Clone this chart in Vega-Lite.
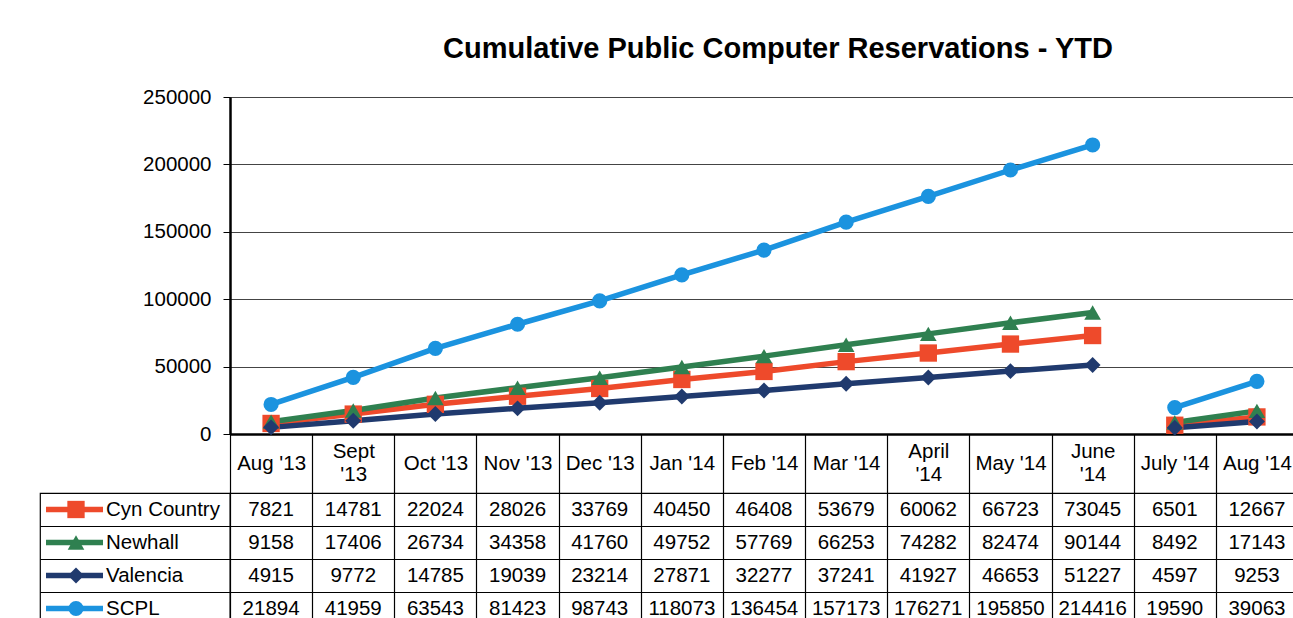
{
  "$schema": "https://vega.github.io/schema/vega-lite/v6.json",
  "padding": {"left": 39, "top": 34, "right": 0, "bottom": 0},
  "background": "white",
  "datasets": {
    "wide": [
      {"month": "Aug '13", "fy": "2013-14", "Cyn Country": 7821, "Newhall": 9158, "Valencia": 4915, "SCPL": 21894},
      {"month": "Sept '13", "fy": "2013-14", "Cyn Country": 14781, "Newhall": 17406, "Valencia": 9772, "SCPL": 41959},
      {"month": "Oct '13", "fy": "2013-14", "Cyn Country": 22024, "Newhall": 26734, "Valencia": 14785, "SCPL": 63543},
      {"month": "Nov '13", "fy": "2013-14", "Cyn Country": 28026, "Newhall": 34358, "Valencia": 19039, "SCPL": 81423},
      {"month": "Dec '13", "fy": "2013-14", "Cyn Country": 33769, "Newhall": 41760, "Valencia": 23214, "SCPL": 98743},
      {"month": "Jan '14", "fy": "2013-14", "Cyn Country": 40450, "Newhall": 49752, "Valencia": 27871, "SCPL": 118073},
      {"month": "Feb '14", "fy": "2013-14", "Cyn Country": 46408, "Newhall": 57769, "Valencia": 32277, "SCPL": 136454},
      {"month": "Mar '14", "fy": "2013-14", "Cyn Country": 53679, "Newhall": 66253, "Valencia": 37241, "SCPL": 157173},
      {"month": "April '14", "fy": "2013-14", "Cyn Country": 60062, "Newhall": 74282, "Valencia": 41927, "SCPL": 176271},
      {"month": "May '14", "fy": "2013-14", "Cyn Country": 66723, "Newhall": 82474, "Valencia": 46653, "SCPL": 195850},
      {"month": "June '14", "fy": "2013-14", "Cyn Country": 73045, "Newhall": 90144, "Valencia": 51227, "SCPL": 214416},
      {"month": "July '14", "fy": "2014-15", "Cyn Country": 6501, "Newhall": 8492, "Valencia": 4597, "SCPL": 19590},
      {"month": "Aug '14", "fy": "2014-15", "Cyn Country": 12667, "Newhall": 17143, "Valencia": 9253, "SCPL": 39063}
    ],
    "series": [
      {"series": "Cyn Country"},
      {"series": "Newhall"},
      {"series": "Valencia"},
      {"series": "SCPL"}
    ]
  },
  "columns": 2,
  "bounds": "flush",
  "spacing": {"row": 59, "column": 0},
  "resolve": {"scale": {"x": "independent", "y": "independent", "color": "shared", "shape": "shared", "size": "shared"}},
  "concat": [
    {
      "width": 190,
      "height": 337,
      "view": {"stroke": null},
      "data": {"values": [{"blank": ""}]},
      "mark": {"type": "text"},
      "encoding": {"text": {"field": "blank"}}
    },
    {
      "width": 1068,
      "height": 337,
      "title": {"text": "Cumulative Public Computer Reservations - YTD", "fontSize": 29, "fontWeight": "bold", "font": "Liberation Sans", "anchor": "middle", "offset": 23, "dx": 14, "color": "#000"},
      "view": {"stroke": "#333", "strokeWidth": 1},
      "data": {"name": "wide"},
      "transform": [{"fold": ["Cyn Country", "Newhall", "Valencia", "SCPL"], "as": ["series", "value"]}],
      "encoding": {
        "x": {
          "field": "month", "type": "ordinal",
          "sort": ["Aug '13", "Sept '13", "Oct '13", "Nov '13", "Dec '13", "Jan '14", "Feb '14", "Mar '14", "April '14", "May '14", "June '14", "July '14", "Aug '14"],
          "scale": {"type": "band", "paddingInner": 0, "paddingOuter": 0},
          "bandPosition": 0.5,
          "axis": {
            "title": null, "labelAngle": 0, "labelFontSize": 20.5, "labelColor": "#000",
            "labelOverlap": false, "labelBaseline": "middle", "labelLineHeight": 23,
            "labelPadding": {"condition": {"test": "indexof([\"Sept '13\", \"April '14\", \"June '14\"], datum.value) >= 0", "value": -42}, "value": -30},
            "tickBand": "extent", "tickSize": 59, "tickColor": "#000", "tickWidth": 1.2,
            "domainColor": "#000", "domainWidth": 2.5, "grid": false,
            "labelExpr": "indexof([\"Sept '13\", \"April '14\", \"June '14\"], datum.value) >= 0 ? split(datum.value, ' ') : datum.value"
          }
        },
        "y": {
          "field": "value", "type": "quantitative",
          "scale": {"domain": [0, 250000], "nice": false},
          "axis": {
            "title": null, "values": [0, 50000, 100000, 150000, 200000, 250000], "format": "d",
            "labelFontSize": 20.5, "labelColor": "#000", "labelPadding": 12,
            "tickSize": 7, "tickColor": "#000", "domainColor": "#000", "domainWidth": 2.5,
            "grid": true, "gridColor": "#444", "gridWidth": 1.2
          }
        },
        "color": {
          "field": "series", "type": "nominal", "legend": null,
          "scale": {"domain": ["Cyn Country", "Newhall", "Valencia", "SCPL"], "range": ["#EE4A2B", "#2F8050", "#203A6E", "#1B93DF"]}
        },
        "detail": {"field": "fy"}
      },
      "layer": [
        {"mark": {"type": "line", "strokeWidth": 5.5}},
        {
          "mark": {"type": "point", "filled": true, "opacity": 1},
          "encoding": {
            "shape": {"field": "series", "type": "nominal", "legend": null,
              "scale": {"domain": ["Cyn Country", "Newhall", "Valencia", "SCPL"], "range": ["square", "triangle-up", "diamond", "circle"]}},
            "size": {"field": "series", "type": "nominal", "legend": null,
              "scale": {"domain": ["Cyn Country", "Newhall", "Valencia", "SCPL"], "range": [300, 230, 200, 380]}}
          }
        }
      ]
    },
    {
      "width": 190,
      "height": 132,
      "view": {"stroke": "#000", "strokeWidth": 1.2},
      "data": {"name": "series"},
      "encoding": {
        "y": {
          "field": "series", "type": "nominal",
          "sort": ["Cyn Country", "Newhall", "Valencia", "SCPL"],
          "scale": {"type": "band", "paddingInner": 0, "paddingOuter": 0},
          "axis": {"title": null, "labels": false, "ticks": false, "domain": false, "grid": true, "tickBand": "extent", "gridColor": "#000", "gridWidth": 1.2}
        },
        "color": {"field": "series", "type": "nominal", "legend": null}
      },
      "layer": [
        {
          "mark": {"type": "rule", "strokeWidth": 5.5},
          "encoding": {
            "x": {"datum": 6, "type": "quantitative", "scale": {"domain": [0, 190], "nice": false}, "axis": null},
            "x2": {"datum": 63},
            "y": {"field": "series", "type": "nominal", "sort": ["Cyn Country", "Newhall", "Valencia", "SCPL"], "bandPosition": 0.5,
              "axis": {"title": null, "labels": false, "ticks": false, "domain": false, "grid": true, "tickBand": "extent", "gridColor": "#000", "gridWidth": 1.2}}
          }
        },
        {
          "mark": {"type": "point", "filled": true, "opacity": 1},
          "encoding": {
            "x": {"datum": 36, "type": "quantitative"},
            "shape": {"field": "series", "type": "nominal", "legend": null},
            "size": {"field": "series", "type": "nominal", "legend": null}
          }
        },
        {
          "mark": {"type": "text", "align": "left", "baseline": "middle", "fontSize": 20.5, "font": "Liberation Sans", "color": "#000"},
          "encoding": {
            "x": {"datum": 66, "type": "quantitative"},
            "text": {"field": "series"},
            "color": {"value": "#000"}
          }
        }
      ]
    },
    {
      "width": 1068,
      "height": 132,
      "view": {"stroke": "#000", "strokeWidth": 1.2},
      "data": {"name": "wide"},
      "transform": [{"fold": ["Cyn Country", "Newhall", "Valencia", "SCPL"], "as": ["series", "value"]}],
      "mark": {"type": "text", "fontSize": 20.5, "font": "Liberation Sans", "color": "#000", "baseline": "middle"},
      "encoding": {
        "x": {
          "field": "month", "type": "ordinal",
          "sort": ["Aug '13", "Sept '13", "Oct '13", "Nov '13", "Dec '13", "Jan '14", "Feb '14", "Mar '14", "April '14", "May '14", "June '14", "July '14", "Aug '14"],
          "scale": {"type": "band", "paddingInner": 0, "paddingOuter": 0},
          "axis": {"title": null, "labels": false, "ticks": false, "domain": false, "grid": true, "tickBand": "extent", "gridColor": "#000", "gridWidth": 1.2}
        },
        "y": {
          "field": "series", "type": "nominal",
          "sort": ["Cyn Country", "Newhall", "Valencia", "SCPL"],
          "scale": {"type": "band", "paddingInner": 0, "paddingOuter": 0},
          "axis": {"title": null, "labels": false, "ticks": false, "domain": false, "grid": true, "tickBand": "extent", "gridColor": "#000", "gridWidth": 1.2}
        },
        "text": {"field": "value", "type": "quantitative", "format": "d"}
      }
    }
  ],
  "config": {
    "font": "Liberation Sans",
    "axis": {"labelFont": "Liberation Sans"}
  }
}
